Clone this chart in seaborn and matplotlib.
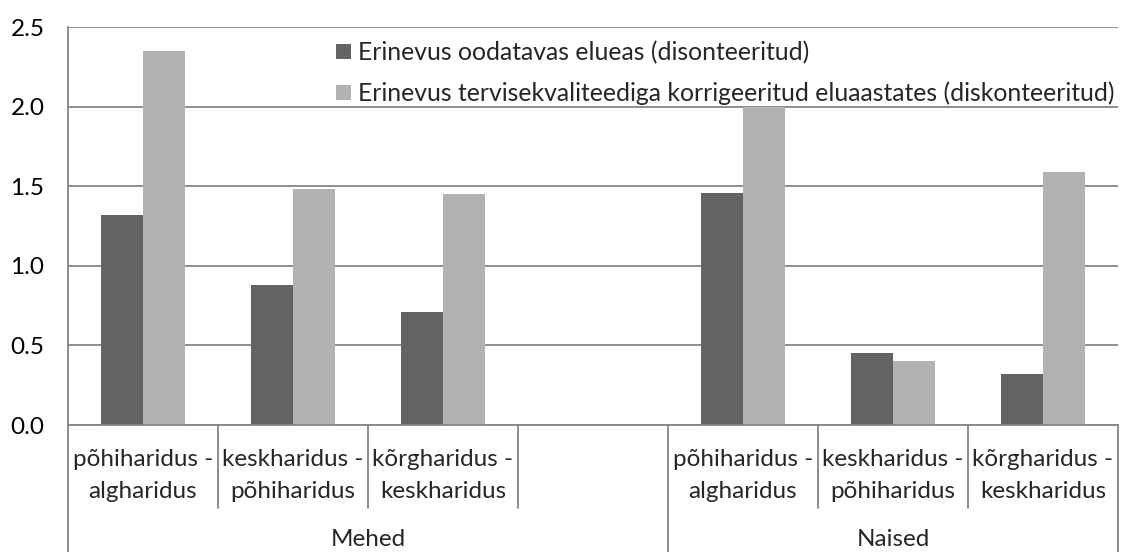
import matplotlib
matplotlib.use("Agg")
import matplotlib.pyplot as plt
import seaborn as sns
import pandas as pd
from matplotlib.patches import Patch
from matplotlib.transforms import blended_transform_factory

# ---- data ----
groups = ["Mehed", "Naised"]
pair_line1 = ["põhiharidus -", "keskharidus -", "kõrgharidus -"]
pair_line2 = ["algharidus", "põhiharidus", "keskharidus"]
series = ["Erinevus oodatavas elueas (disonteeritud)",
          "Erinevus tervisekvaliteediga korrigeeritud eluaastates (diskonteeritud)"]
mehed_le = [1.32, 0.88, 0.71]
mehed_qale = [2.35, 1.48, 1.45]
naised_le = [1.46, 0.45, 0.32]
naised_qale = [2.00, 0.40, 1.59]
yticks = [0.0, 0.5, 1.0, 1.5, 2.0, 2.5]

dark = "#636363"
light = "#b2b2b2"
gridc = "#868686"
FS = 17.5

slots = ["M0", "M1", "M2", "Mgap", "N0", "N1", "N2"]
rows = []
for i in range(3):
    rows.append(("M%d" % i, series[0], mehed_le[i]))
    rows.append(("M%d" % i, series[1], mehed_qale[i]))
for i in range(3):
    rows.append(("N%d" % i, series[0], naised_le[i]))
    rows.append(("N%d" % i, series[1], naised_qale[i]))
df = pd.DataFrame(rows, columns=["slot", "series", "value"])

sns.set_theme(style="white")
plt.rcParams["font.family"] = ["Lato", "DejaVu Sans"]

W, H = 1121, 552
fig = plt.figure(figsize=(W / 100, H / 100), dpi=100)
left, right, top, bottom = 68, 1118, 27, 425
ax = fig.add_axes([left / W, (H - bottom) / H, (right - left) / W, (bottom - top) / H])

sns.barplot(data=df, x="slot", y="value", hue="series", order=slots,
            hue_order=series, palette=[dark, light], width=0.56,
            saturation=1, linewidth=0, legend=False, ax=ax)

ax.set_xlim(-0.5, 6.5)
ax.set_ylim(0, 2.5)
ax.set_yticks(yticks)
ax.set_yticklabels(["%.1f" % v for v in yticks], fontsize=FS)
ax.yaxis.grid(True, color=gridc, lw=1.3)
ax.set_axisbelow(True)
ax.set_xlabel("")
ax.set_ylabel("")
ax.set_xticks([])
for s in ["top", "right"]:
    ax.spines[s].set_visible(False)
for s in ["left", "bottom"]:
    ax.spines[s].set_color(gridc)
    ax.spines[s].set_linewidth(1.3)
ax.tick_params(axis="y", length=6, width=1.3, color=gridc, direction="out",
               pad=11, labelcolor="black")

ah = bottom - top
def ay(px):
    return -(px - bottom) / ah

tr = blended_transform_factory(ax.transData, ax.transAxes)
long_x = [-0.5, 3.5, 6.5]
short_x = [0.5, 1.5, 2.5, 4.5, 5.5]
for x in long_x:
    ax.plot([x, x], [0, ay(H)], transform=tr, color=gridc, lw=1.3, clip_on=False)
for x in short_x:
    ax.plot([x, x], [0, ay(508)], transform=tr, color=gridc, lw=1.3, clip_on=False)

cat_pos = [0, 1, 2, 4, 5, 6]
for k, x in enumerate(cat_pos):
    j = k % 3
    ax.text(x, ay(460), pair_line1[j], transform=tr, ha="center", va="center", fontsize=FS)
    ax.text(x, ay(491), pair_line2[j], transform=tr, ha="center", va="center", fontsize=FS)
ax.text(1.5, ay(540), groups[0], transform=tr, ha="center", va="center", fontsize=FS)
ax.text(5.0, ay(540), groups[1], transform=tr, ha="center", va="center", fontsize=FS)

handles = [Patch(facecolor=dark, edgecolor="none"), Patch(facecolor=light, edgecolor="none")]
fig.legend(handles, series, loc="upper left", bbox_to_anchor=(336 / W, 1 - 41 / H),
           frameon=False, fontsize=17.8, handlelength=0.6, handleheight=0.6,
           handletextpad=0.3, labelspacing=0.7, borderaxespad=0, borderpad=0)

fig.savefig("out.png", dpi=100)
